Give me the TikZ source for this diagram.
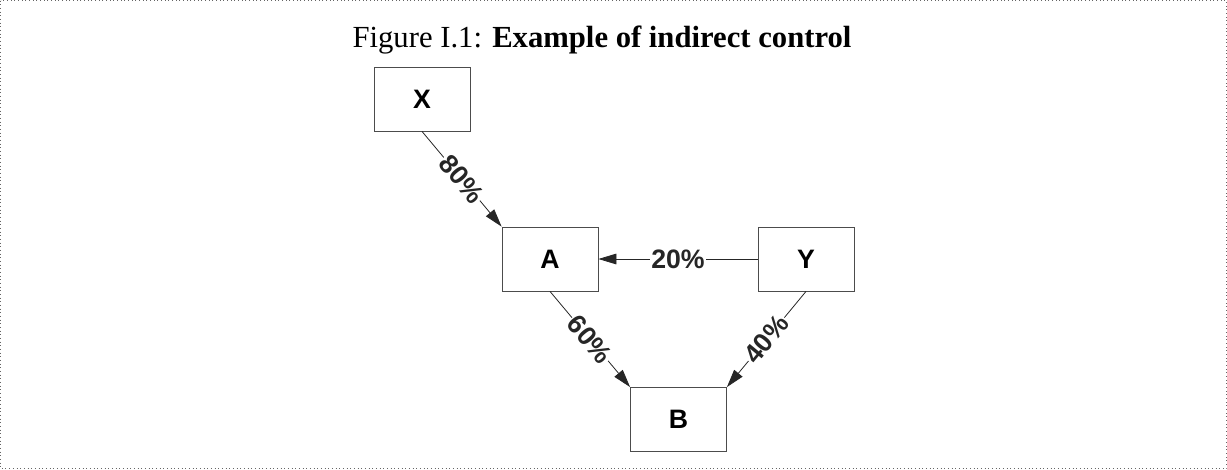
\documentclass[tikz,border=0pt]{standalone}
\usepackage{fontspec}
\setmainfont{Liberation Serif}
\setsansfont{Liberation Sans}
\usepackage{tikz}
\usetikzlibrary{positioning, arrows.meta}

\begin{document}
\begin{tikzpicture}[x=0.75pt, y=-0.75pt, line width=0.6pt,
  main node/.style={rectangle,draw=black!70,minimum width=72pt,minimum height=48pt,
    inner sep=0pt,font=\sffamily\fontsize{20}{20}\selectfont\bfseries},
  share/.style={fill=white,inner sep=1pt,sloped,anchor=center,
    font=\sffamily\fontsize{20}{20}\selectfont\bfseries}]

\useasboundingbox (0,0) rectangle (1227,469);
\draw[black!60, dotted, line width=0.75pt] (0.5,0.5) rectangle (1226.5,468.5);

\node (title) at (602,40) {\fontsize{23}{25}\selectfont Figure I.1: \textbf{Example of indirect control}};

\node[main node] (X) at (422,99) {X};
\node[main node] (A) at (550,259) {A};
\node[main node] (Y) at (806,259) {Y};
\node[main node] (B) at (678.5,419.5) {B};

\path[black!85, -{Triangle[length=13.5pt,width=8pt]}, every node/.style={share}]
(X.south) edge node [midway] {80\%} (A.north west)
(Y.west)  edge node [midway] {20\%} (A.east)
(A.south) edge node [midway] {60\%} (B.north west)
(Y.south) edge node [midway] {40\%} (B.north east)
;

\end{tikzpicture}
\end{document}
